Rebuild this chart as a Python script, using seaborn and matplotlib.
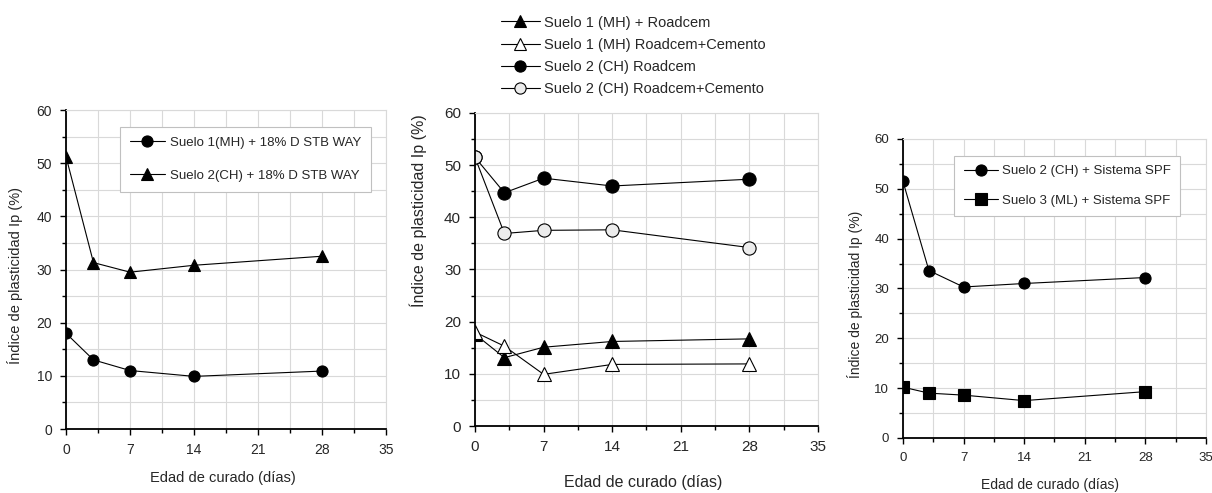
import pandas as pd
import matplotlib
matplotlib.use('Agg')
import matplotlib.pyplot as plt
import seaborn as sns
from matplotlib.ticker import MultipleLocator

# Datos
dias = [0, 3, 7, 14, 28]

# Panel 1: D STB WAY
s1_stb = [18.0, 13.0, 11.0, 9.9, 10.9]
s2_stb = [51.2, 31.3, 29.5, 30.8, 32.5]
labels_p1 = ['Suelo 1(MH) + 18% D STB WAY', 'Suelo 2(CH) + 18% D STB WAY']

# Panel 2: Roadcem
s1_road = [17.6, 13.1, 15.1, 16.2, 16.7]
s1_road_cem = [18.0, 15.3, 9.9, 11.8, 11.9]
s2_road = [51.5, 44.7, 47.5, 46.0, 47.3]
s2_road_cem = [51.5, 36.9, 37.5, 37.6, 34.2]
labels_p2 = ['Suelo 1 (MH) + Roadcem', 'Suelo 1 (MH) Roadcem+Cemento',
             'Suelo 2 (CH) Roadcem', 'Suelo 2 (CH) Roadcem+Cemento']

# Panel 3: Sistema SPF
s2_spf = [51.5, 33.6, 30.3, 31.0, 32.2]
s3_spf = [10.2, 9.0, 8.6, 7.5, 9.3]
labels_p3 = ['Suelo 2 (CH) + Sistema SPF', 'Suelo 3 (ML) + Sistema SPF']

sns.set_style('white')
plt.rcParams['font.family'] = ['Liberation Sans', 'DejaVu Sans']

fig = plt.figure(figsize=(12.12, 4.93), dpi=100)
ax1 = fig.add_axes([0.0545, 0.1298, 0.264, 0.647])
ax2 = fig.add_axes([0.3919, 0.1359, 0.283, 0.635])
ax3 = fig.add_axes([0.745, 0.1116, 0.25, 0.6065])


def serie(ax, y, label, marker, fc='black', ms=8):
    df = pd.DataFrame({'dias': dias, 'ip': y})
    sns.lineplot(data=df, x='dias', y='ip', ax=ax, color='black', lw=0.8,
                 marker=marker, markersize=ms, markerfacecolor=fc,
                 markeredgecolor='black', markeredgewidth=0.8, label=label)


def estilo(ax, fs, fl, xlab_pos, ylab_pos):
    ax.set_xlim(0, 35)
    ax.set_ylim(0, 60)
    ax.xaxis.set_major_locator(MultipleLocator(7))
    ax.xaxis.set_minor_locator(MultipleLocator(3.5))
    ax.yaxis.set_major_locator(MultipleLocator(10))
    ax.yaxis.set_minor_locator(MultipleLocator(5))
    ax.grid(True, which='both', color='#d9d9d9', lw=0.8)
    ax.set_axisbelow(True)
    for s in ['left', 'bottom']:
        ax.spines[s].set_color('black')
        ax.spines[s].set_linewidth(1.3)
    for s in ['top', 'right']:
        ax.spines[s].set_color('#d9d9d9')
        ax.spines[s].set_linewidth(0.8)
    ax.tick_params(which='both', direction='out', length=4, width=1, color='black',
                   bottom=True, left=True, labelsize=fs, pad=6)
    ax.tick_params(which='minor', length=3)
    ax.set_xlabel('Edad de curado (días)', fontsize=fl, va='center')
    ax.set_ylabel('Índice de plasticidad Ip (%)', fontsize=fl, va='center')
    ax.xaxis.set_label_coords(*xlab_pos)
    ax.yaxis.set_label_coords(*ylab_pos)


# Panel 1
serie(ax1, s1_stb, labels_p1[0], 'o')
serie(ax1, s2_stb, labels_p1[1], '^', ms=9)
estilo(ax1, 10, 10.5, (0.49, -0.154), (-0.16, 0.48))
leg = ax1.legend(loc='upper right', bbox_to_anchor=(0.953, 0.947), fontsize=9.5,
                 fancybox=False, edgecolor='#c0c0c0', framealpha=1,
                 labelspacing=1.55, handlelength=2.6, handletextpad=0.4,
                 borderpad=0.75, borderaxespad=0)
leg.get_frame().set_linewidth(0.8)

# Panel 2
serie(ax2, s1_road, labels_p2[0], '^', ms=10)
serie(ax2, s1_road_cem, labels_p2[1], '^', fc='white', ms=10)
serie(ax2, s2_road, labels_p2[2], 'o', ms=9.5)
serie(ax2, s2_road_cem, labels_p2[3], 'o', fc='#ececec', ms=9.5)
estilo(ax2, 11, 11.5, (0.49, -0.179), (-0.166, 0.687))
ax2.legend(loc='upper left', bbox_to_anchor=(0.075, 1.311), fontsize=10.5,
           frameon=False, labelspacing=0.55, handlelength=2.7, borderpad=0,
           borderaxespad=0, handletextpad=0.25, markerscale=0.85)

# Panel 3
serie(ax3, s2_spf, labels_p3[0], 'o')
serie(ax3, s3_spf, labels_p3[1], 's')
estilo(ax3, 9.5, 10, (0.485, -0.157), (-0.158, 0.48))
leg = ax3.legend(loc='upper right', bbox_to_anchor=(0.914, 0.943), fontsize=9.5,
                 fancybox=False, edgecolor='#c0c0c0', framealpha=1,
                 labelspacing=1.3, handlelength=2.6, handletextpad=0.3,
                 borderpad=0.7, borderaxespad=0)
leg.get_frame().set_linewidth(0.8)

fig.savefig('out.png', dpi=100)
